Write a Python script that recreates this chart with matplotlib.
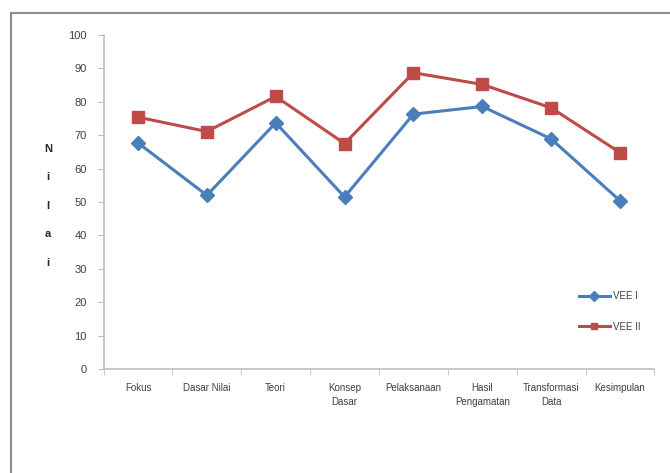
import numpy as np
import matplotlib.pyplot as plt
from matplotlib.patches import Rectangle

# data
categories = ['Fokus', 'Dasar Nilai', 'Teori', 'Konsep\nDasar', 'Pelaksanaan',
              'Hasil\nPengamatan', 'Transformasi\nData', 'Kesimpulan']
vee1 = [67.7, 52.0, 73.7, 51.5, 76.3, 78.6, 68.9, 50.4]
vee2 = [75.4, 71.1, 81.6, 67.5, 88.7, 85.2, 78.2, 64.8]
yticks = [0, 10, 20, 30, 40, 50, 60, 70, 80, 90, 100]

plt.rcParams['font.family'] = ['Liberation Sans Narrow', 'Liberation Sans', 'DejaVu Sans']
txt = '#404040'

fig = plt.figure(figsize=(6.7, 4.73), dpi=100)
ax = fig.add_axes([0.1546, 0.2199, 0.8221, 0.7061])

x = np.arange(len(categories))
blue = '#4A7EBB'
red = '#BE4B48'
ax.plot(x, vee1, color=blue, lw=2.2, marker='D', ms=7, label='VEE I', zorder=3)
ax.plot(x, vee2, color=red, lw=2.2, marker='s', ms=8.5, label='VEE II', zorder=3)

ax.set_xlim(-0.5, len(categories) - 0.5)
ax.set_ylim(0, 100)
ax.set_yticks(yticks)
ax.set_yticklabels([str(v) for v in yticks], fontsize=8, color=txt)
ax.set_xticks(x)
ax.set_xticklabels(categories, fontsize=7, linespacing=1.5, color=txt)
ax.set_xticks(np.arange(-0.5, len(categories)), minor=True)
ax.tick_params(axis='x', which='major', length=0, pad=10)
ax.tick_params(axis='x', which='minor', length=4, color='#BFBFBF')
ax.tick_params(axis='y', length=4, color='#BFBFBF', pad=8)

for s in ['top', 'right']:
    ax.spines[s].set_visible(False)
for s in ['left', 'bottom']:
    ax.spines[s].set_color('#BFBFBF')
    ax.spines[s].set_linewidth(1.2)

fig.text(0.072, 0.565, 'N\ni\nl\na\ni', fontsize=8, fontweight='bold', color='#262626',
         ha='center', va='center', linespacing=3.3)

leg = ax.legend(loc='lower right', bbox_to_anchor=(0.99, 0.085), frameon=False,
                fontsize=7, handlelength=3.2, labelspacing=2.1, handletextpad=0.3)
for t in leg.get_texts():
    t.set_color(txt)
for h in leg.legend_handles:
    h.set_markersize(5)

fig.add_artist(Rectangle((11 / 670, -0.1), 2.0, 1 - 13 / 473 + 0.1,
                         transform=fig.transFigure, fill=False,
                         edgecolor='#8C8C8C', lw=1.5))

fig.savefig('out.png', dpi=100)
